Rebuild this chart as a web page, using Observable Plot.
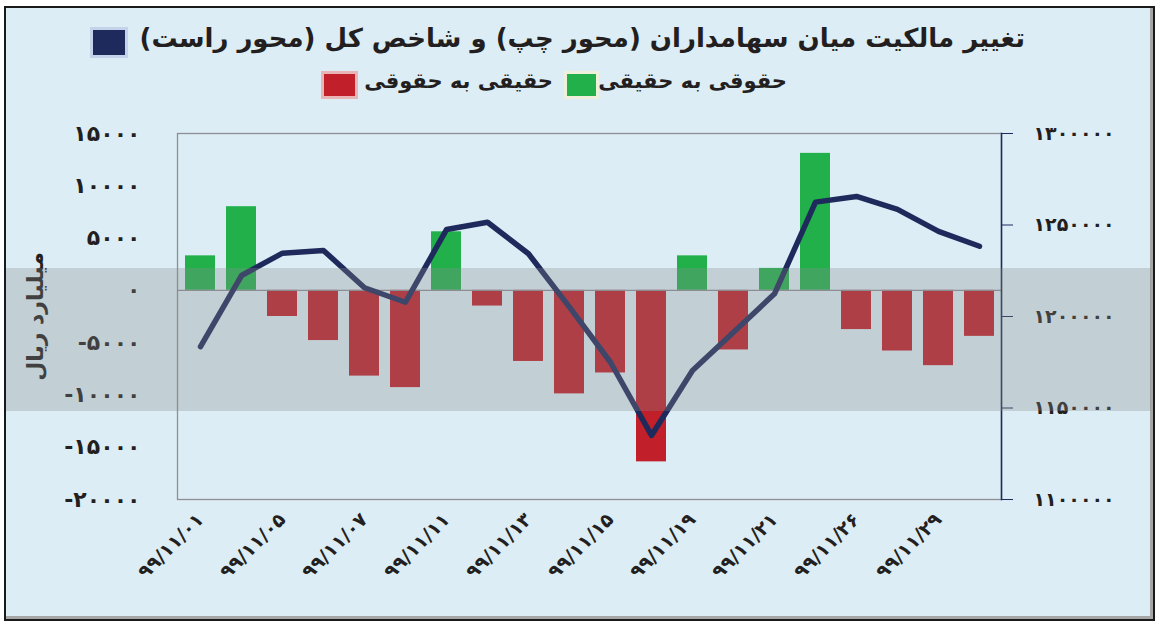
<!DOCTYPE html>
<html>
<head>
<meta charset="utf-8">
<script src="https://cdn.jsdelivr.net/npm/d3@7"></script>
<script src="https://cdn.jsdelivr.net/npm/@observablehq/plot@0.6"></script>
<style>
  html, body { margin: 0; padding: 0; background: #ffffff; }
  body { width: 1165px; height: 627px; position: relative; overflow: hidden; font-family: "DejaVu Sans", sans-serif; }
  #frame { position: absolute; left: 4px; top: 6px; width: 1151px; height: 615px; box-sizing: border-box;
           border: 2px solid #1a1a1a; background: #dcedf5; box-shadow: inset -3px -3px 0 0 #a6a6a6; }
  .abs { position: absolute; white-space: nowrap; }
  .txt { color: #231f20; font-weight: bold; direction: rtl; }
  .sw { position: absolute; box-sizing: border-box; }
  #band { position: absolute; left: 6px; top: 268px; width: 1145px; height: 143px;
          background: rgba(136,140,140,0.30); pointer-events: none; }
  svg { position: absolute; left: 0; top: 0; background: transparent !important; }
</style>
</head>
<body>
<div id="frame"></div>
<div id="charts"></div>
<div id="title" class="abs txt" style="right:140px; top:23px; font-size:26px;">تغییر مالکیت میان سهامداران (محور چپ) و شاخص کل (محور راست)</div>
<div class="sw" style="left:90px; top:27px; width:38px; height:31px; background:#1f2a5c; border:3px solid #c4d3ea;"></div>
<div class="abs txt" style="right:378px; top:69px; font-size:21px;">حقوقی به حقیقی</div>
<div class="sw" style="left:564px; top:71px; width:35px; height:28px; background:#22b04b; border:3px solid #eef0dc;"></div>
<div class="abs txt" style="right:612px; top:69px; font-size:21px;">حقیقی به حقوقی</div>
<div class="sw" style="left:321px; top:71px; width:37px; height:28px; background:#c11f2a; border:3px solid #e9b4b6;"></div>
<div id="band"></div>
<script>
// ---- data ----
const dates = ["99/11/01","99/11/04","99/11/05","99/11/06","99/11/07","99/11/08","99/11/11","99/11/12","99/11/13","99/11/14",
               "99/11/15","99/11/18","99/11/19","99/11/20","99/11/21","99/11/25","99/11/26","99/11/27","99/11/29","99/11/30"];
const labelDates = ["99/11/01","99/11/05","99/11/07","99/11/11","99/11/13","99/11/15","99/11/19","99/11/21","99/11/26","99/11/29"];
const flows = [3300, 8000, -2500, -4800, -8200, -9300, 5600, -1500, -6800, -9900,
               -7900, -16400, 3300, -5700, 2100, 13100, -3750, -5800, -7200, -4400];
const indexValues = [1183600, 1222400, 1234600, 1236100, 1215700, 1207800, 1247500, 1251500, 1234300, 1205100,
                     1175000, 1135000, 1170500, 1191400, 1212400, 1262500, 1265600, 1258500, 1246500, 1238400];
const leftTicks = [-20000, -15000, -10000, -5000, 0, 5000, 10000, 15000];
const rightTicks = [1100000, 1150000, 1200000, 1250000, 1300000];
const seriesNames = ["حقوقی به حقیقی", "حقیقی به حقوقی"];

const fa = s => String(s).replace(/[0-9]/g, d => "۰۱۲۳۴۵۶۷۸۹"[+d]);
const faSigned = v => (v < 0 ? "-" : "") + fa(Math.abs(v));

const barData = dates.map((d, i) => ({date: d, flow: flows[i], kind: flows[i] >= 0 ? seriesNames[0] : seriesNames[1]}));
const lineData = dates.map((d, i) => ({date: d, value: indexValues[i]}));

const W = 1165, H = 627;
const margins = {marginLeft: 177, marginRight: 164, marginTop: 133, marginBottom: 128};
const textStyle = {fontFamily: "DejaVu Sans, sans-serif", fontWeight: "bold", color: "#231f20", background: "transparent", overflow: "visible"};

const bars = Plot.plot({
  width: W, height: H, ...margins,
  style: textStyle,
  x: {type: "band", domain: dates, paddingInner: 0.27, paddingOuter: 0.135},
  y: {domain: [-20000, 15000]},
  color: {domain: seriesNames, range: ["#22b04b", "#c11f2a"]},
  marks: [
    Plot.frame({stroke: "#8e8e96", strokeWidth: 1.3}),
    Plot.barY(barData, {x: "date", y: "flow", fill: "kind"}),
    Plot.ruleY([0], {stroke: "#8e8e96", strokeWidth: 1.3}),
    Plot.axisY({ticks: leftTicks, tickFormat: faSigned, tickSize: 0, tickPadding: 37, fontSize: 22,
                label: "میلیارد ریال", labelAnchor: "center", labelArrow: "none", labelOffset: 150}),
    Plot.axisX({ticks: labelDates, tickFormat: fa, tickRotate: -45, tickSize: 0, tickPadding: 17, fontSize: 19, label: null})
  ]
});

const line = Plot.plot({
  width: W, height: H, ...margins,
  style: textStyle,
  x: {type: "point", domain: dates, padding: 0.5, axis: null},
  y: {domain: [1100000, 1300000]},
  marks: [
    Plot.frame({anchor: "right", stroke: "#1f2a5c", strokeWidth: 1.5}),
    Plot.line(lineData, {x: "date", y: "value", stroke: "#1f2a5c", strokeWidth: 5.5, strokeLinejoin: "round", strokeLinecap: "round"}),
    Plot.axisY({anchor: "right", ticks: rightTicks, tickFormat: fa, tickSize: 11, tickPadding: 21, fontSize: 19, stroke: "#1f2a5c", textAnchor: "start", label: null})
  ]
});

const host = document.getElementById("charts");
host.appendChild(bars);
host.appendChild(line);
</script>
</body>
</html>
